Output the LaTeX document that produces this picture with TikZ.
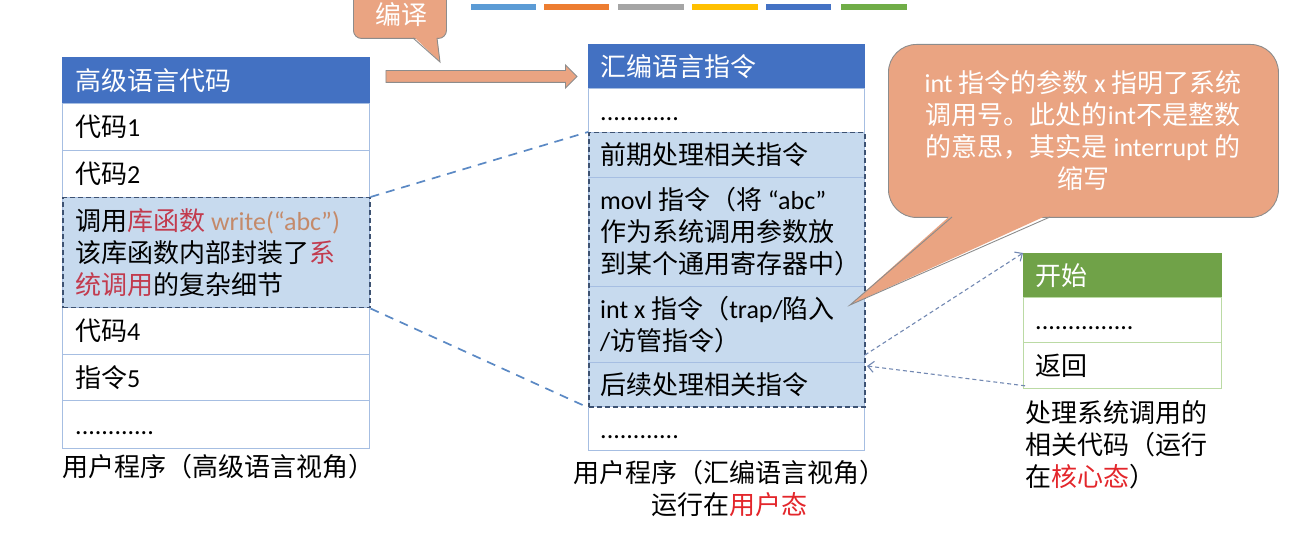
\documentclass[tikz,border=0pt]{standalone}
\usepackage{fontspec}
\setmainfont{Noto Sans CJK SC}
\newfontfamily\lat{Carlito}
\usetikzlibrary{arrows.meta,shapes.arrows}

\definecolor{hdrblue}{HTML}{4371C2}
\definecolor{hdrgreen}{HTML}{70A248}
\definecolor{tabline}{HTML}{A6BEE2}
\definecolor{greenline}{HTML}{BBDAA4}
\definecolor{hlblue}{HTML}{C7DAEE}
\definecolor{frame}{HTML}{3D5272}
\definecolor{linkblue}{HTML}{5B89C4}
\definecolor{callblue}{HTML}{7288B2}
\definecolor{salmon}{HTML}{EAA482}
\definecolor{callborder}{HTML}{8C8C8C}
\definecolor{redtxt}{HTML}{C23B4E}
\definecolor{brightred}{HTML}{E3262B}
\definecolor{tantxt}{HTML}{C48A6A}
\definecolor{barA}{HTML}{5B9BD5}
\definecolor{barB}{HTML}{ED7D31}
\definecolor{barC}{HTML}{A5A5A5}
\definecolor{barD}{HTML}{FFC000}
\definecolor{barE}{HTML}{4472C4}
\definecolor{barF}{HTML}{70AD47}

\newcommand{\bodyfont}{\fontsize{26pt}{32pt}\selectfont}
\newcommand{\dotrow}[1]{\vphantom{代}{\lat #1}}

\begin{document}
\begin{tikzpicture}[x=1pt,y=-1pt,
  cell/.style={draw=tabline, line width=0.8pt, anchor=north west, inner sep=0pt, fill=white},
  gcell/.style={cell, draw=greenline},
  hdr/.style={fill=hdrblue, draw=hdrblue},
  ghdr/.style={fill=hdrgreen, draw=hdrgreen},
  hl/.style={fill=hlblue},
  dashframe/.style={draw=frame, line width=1.5pt, dash pattern=on 5pt off 3pt, anchor=north west, inner sep=0pt},
  txt/.style={anchor=west, inner sep=0pt, align=left, font=\bodyfont},
  link/.style={draw=linkblue, line width=1.7pt, dash pattern=on 9pt off 7pt},
  callarrow/.style={draw=callblue, line width=1.1pt, dash pattern=on 4pt off 3pt, -{Straight Barb[length=6pt,width=11pt]}},
  balloon/.style={fill=salmon, draw=callborder, line width=0.9pt},
]
\useasboundingbox (0,0) rectangle (1290,534);
\clip (0,0) rectangle (1290,534);

% colour strip at the top
\fill[barA] (471,4) rectangle (536,10);
\fill[barB] (544,4) rectangle (609,10);
\fill[barC] (618,4) rectangle (684,10);
\fill[barD] (692,4) rectangle (758,10);
\fill[barE] (766,4) rectangle (831,10);
\fill[barF] (841,4) rectangle (907,10);

% ---------- high-level language program ----------
\node[cell, hdr, minimum width=307pt, minimum height=46pt] (lh) at (62,57) {};
\node[txt, text=white] (lht) at ([xshift=13pt]lh.west) {高级语言代码};
\node[cell, minimum width=307pt, minimum height=47pt] (l1) at (62,103) {};
\node[txt] (l1t) at ([xshift=13pt]l1.west) {代码{\lat 1}};
\node[cell, minimum width=307pt, minimum height=47pt] (l2) at (62,150) {};
\node[txt] (l2t) at ([xshift=13pt]l2.west) {代码{\lat 2}};
\node[cell, hl, minimum width=307pt, minimum height=110pt] (l3) at (62,197) {};
\node[txt] (l3t) at ([xshift=13pt]l3.west) {调用\textcolor{redtxt}{库函数} \textcolor{tantxt}{\lat write(“abc”)}\\该库函数内部封装了\textcolor{redtxt}{系}\\\textcolor{redtxt}{统调用}的复杂细节};
\node[cell, minimum width=307pt, minimum height=47pt] (l4) at (62,307) {};
\node[txt] (l4t) at ([xshift=13pt]l4.west) {代码{\lat 4}};
\node[cell, minimum width=307pt, minimum height=46pt] (l5) at (62,354) {};
\node[txt] (l5t) at ([xshift=13pt]l5.west) {指令{\lat 5}};
\node[cell, minimum width=307pt, minimum height=48pt] (l6) at (62,400) {};
\node[txt] (l6t) at ([xshift=13pt]l6.west) {\dotrow{............}};
\node[dashframe, minimum width=307pt, minimum height=110pt] (lhl) at (62,197) {};
\node[txt] (lcap) at (62,467) {用户程序（高级语言视角）};

% ---------- assembly program ----------
\node[cell, hdr, minimum width=276pt, minimum height=44pt] (mh) at (588,44) {};
\node[txt, text=white] (mht) at ([xshift=12pt]mh.west) {汇编语言指令};
\node[cell, minimum width=276pt, minimum height=44pt] (m1) at (588,88) {};
\node[txt] (m1t) at ([xshift=12pt]m1.west) {\dotrow{............}};
\node[cell, hl, minimum width=276pt, minimum height=45pt] (m2) at (588,132) {};
\node[txt] (m2t) at ([xshift=12pt]m2.west) {前期处理相关指令};
\node[cell, hl, minimum width=276pt, minimum height=109pt] (m3) at (588,177) {};
\node[txt] (m3t) at ([xshift=12pt]m3.west) {{\lat movl} 指令（将 {\lat “abc”}\\作为系统调用参数放\\到某个通用寄存器中）};
\node[cell, hl, minimum width=276pt, minimum height=76pt] (m4) at (588,286) {};
\node[txt] (m4t) at ([xshift=12pt]m4.west) {{\lat int x} 指令（{\lat trap/}陷入\\{\lat /}访管指令）};
\node[cell, hl, minimum width=276pt, minimum height=44pt] (m5) at (588,362) {};
\node[txt] (m5t) at ([xshift=12pt]m5.west) {后续处理相关指令};
\node[cell, minimum width=276pt, minimum height=44pt] (m6) at (588,406) {};
\node[txt] (m6t) at ([xshift=12pt]m6.west) {\dotrow{............}};
\node[dashframe, minimum width=276pt, minimum height=274pt] (mhl) at (588,132) {};
\node[txt, align=center, anchor=center] (mcap) at (729,488) {用户程序（汇编语言视角）\\运行在\textcolor{brightred}{用户态}};

% ---------- system call handler ----------
\node[gcell, ghdr, minimum width=198pt, minimum height=44pt] (rh) at (1023,253) {};
\node[txt, text=white] (rht) at ([xshift=12pt]rh.west) {开始};
\node[gcell, minimum width=198pt, minimum height=45pt] (r1) at (1023,297) {};
\node[txt] (r1t) at ([xshift=12pt]r1.west) {\dotrow{...............}};
\node[gcell, minimum width=198pt, minimum height=46pt] (r2) at (1023,342) {};
\node[txt] (r2t) at ([xshift=12pt]r2.west) {返回};
\node[txt, anchor=north west] (rcap) at (1025,400) {处理系统调用的\\相关代码（运行\\在\textcolor{brightred}{核心态}）};

% ---------- connectors ----------
\draw[link] (lhl.north east) -- (mhl.north west);
\draw[link] (lhl.south east) -- (mhl.south west);
\coordinate (pa) at (865,355);
\coordinate (pb) at (867,366);
\draw[callarrow] (pa) -- (rh.north west);
\draw[callarrow] ([shift={(2,-3)}]r2.south west) -- (pb);

% compile arrow
\node[single arrow, balloon, minimum height=191pt, minimum width=22pt, inner sep=5.5pt,
      single arrow head extend=5.5pt, single arrow head indent=0pt] (ba) at (478.5,76.5) {};

% "编译" balloon
\node[balloon, rounded corners=8pt, anchor=north west, minimum width=93pt, minimum height=70pt, inner sep=0pt] (cb) at (353,-32) {};
\fill[salmon] (413,36) -- (437,36) -- (440,62) -- cycle;
\draw[callborder, line width=0.9pt] (413,38) -- (440,62) -- (437,38);
\node[txt, anchor=center, text=white] (cbt) at (401,15) {编译};

% note balloon on the int instruction
\node[balloon, rounded corners=28pt, anchor=north west, minimum width=390pt, minimum height=173pt, inner sep=0pt] (nb) at (888,44) {};
\fill[salmon] (850,305) -- (952,214) -- (1050,214) -- cycle;
\draw[callborder, line width=0.9pt] (952,217) -- (850,305) -- (1050,217);
\node[txt, anchor=center, align=center, text=white] (nbt) at (1083,131) {{\lat int} 指令的参数 {\lat x} 指明了系统\\调用号。此处的{\lat int}不是整数\\的意思，其实是 {\lat interrupt} 的\\缩写};
\end{tikzpicture}
\end{document}
